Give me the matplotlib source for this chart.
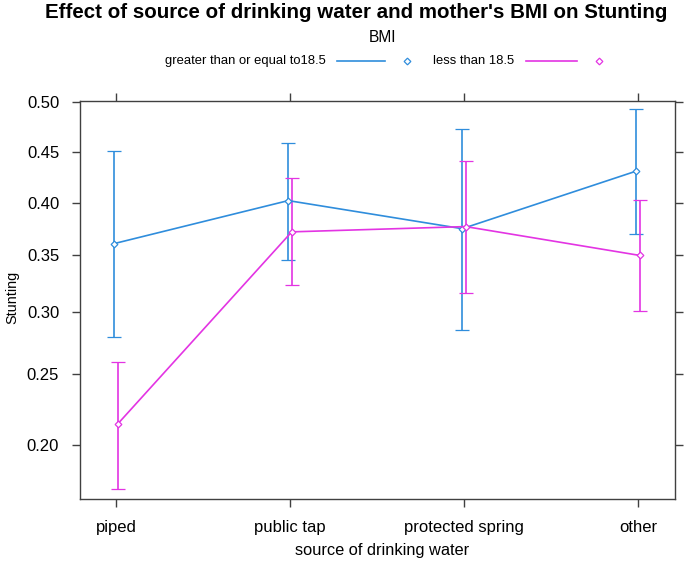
import matplotlib
matplotlib.use('Agg')
import matplotlib.pyplot as plt
from matplotlib.lines import Line2D
import numpy as np

plt.rcParams.update({
    'font.family': ['Liberation Sans', 'DejaVu Sans'],
    'axes.linewidth': 1.0,
})

# ── data (logit scale) ───────────────────────────────────────────────────────
cats = ['piped', 'public tap', 'protected spring', 'other']
groups = ['greater than or equal to18.5', 'less than 18.5']

fit_hi = [0.361, 0.402, 0.375, 0.431]
lo_hi  = [0.279, 0.346, 0.285, 0.370]
up_hi  = [0.451, 0.459, 0.473, 0.493]

fit_lo = [0.214, 0.372, 0.377, 0.350]
lo_lo  = [0.173, 0.323, 0.316, 0.301]
up_lo  = [0.259, 0.424, 0.441, 0.403]

yticks = [0.20, 0.25, 0.30, 0.35, 0.40, 0.45, 0.50]

C_BLUE = '#2f8ddc'
C_MAG  = '#e334e3'
AX_COL = '#404040'

W, H = 685, 566
fig = plt.figure(figsize=(W / 100, H / 100), dpi=100)
ax = fig.add_axes([80 / W, 1 - 499 / H, 595 / W, 398.5 / H])

x = np.arange(1, len(cats) + 1)
for xs, f, lo, up, col in [
    (x - 0.01, fit_hi, lo_hi, up_hi, C_BLUE),
    (x + 0.01, fit_lo, lo_lo, up_lo, C_MAG),
]:
    f, lo, up = map(np.array, (f, lo, up))
    ax.errorbar(xs, f, yerr=[f - lo, up - f], color=col, lw=1.2,
                marker='D', ms=3.4, mfc='white', mec=col, mew=0.9,
                capsize=4.8, capthick=1.2, elinewidth=1.2)

ax.set_yscale('logit')
ax.set_ylim(0.1673, 0.502)
ax.set_xlim(0.793, 4.213)
ax.set_yticks(yticks)
ax.set_yticklabels([f'{v:.2f}' for v in yticks])
ax.yaxis.set_minor_locator(matplotlib.ticker.NullLocator())
ax.yaxis.set_minor_formatter(matplotlib.ticker.NullFormatter())
ax.set_xticks(x)
ax.set_xticklabels(cats)
ax.tick_params(axis='both', which='major', direction='out', length=6,
               width=1.0, color=AX_COL, labelsize=12, pad=9,
               top=True, right=True, labeltop=False, labelright=False)
for sp in ax.spines.values():
    sp.set_color(AX_COL)

fig.text(12 / W, 1 - 297 / H, 'Stunting', rotation=90, fontsize=10.4,
         ha='center', va='center')
fig.text(382 / W, 1 - 550 / H, 'source of drinking water', fontsize=11.8,
         ha='center', va='center')

fig.text(356 / W, 1 - 12 / H,
         "Effect of source of drinking water and mother's BMI on Stunting",
         fontsize=14.8, fontweight='bold', ha='center', va='center')

# legend (lattice-style key: text, line, point)
fig.text(382 / W, 1 - 37 / H, 'BMI', fontsize=11.2, ha='center', va='center')
ly = 1 - 61 / H
fig.text(326 / W, ly, groups[0], fontsize=9.4, ha='right', va='center')
fig.text(514 / W, ly, groups[1], fontsize=9.4, ha='right', va='center')
for (x0, x1, xm), col in [((337, 385, 407), C_BLUE), ((526, 577, 599), C_MAG)]:
    fig.add_artist(Line2D([x0 / W, x1 / W], [ly, ly], color=col, lw=1.2,
                          transform=fig.transFigure))
    fig.add_artist(Line2D([xm / W], [ly], color=col, marker='D', ms=3.4,
                          mfc='white', mec=col, mew=0.9, ls='none',
                          transform=fig.transFigure))

fig.savefig('out.png', dpi=100)
